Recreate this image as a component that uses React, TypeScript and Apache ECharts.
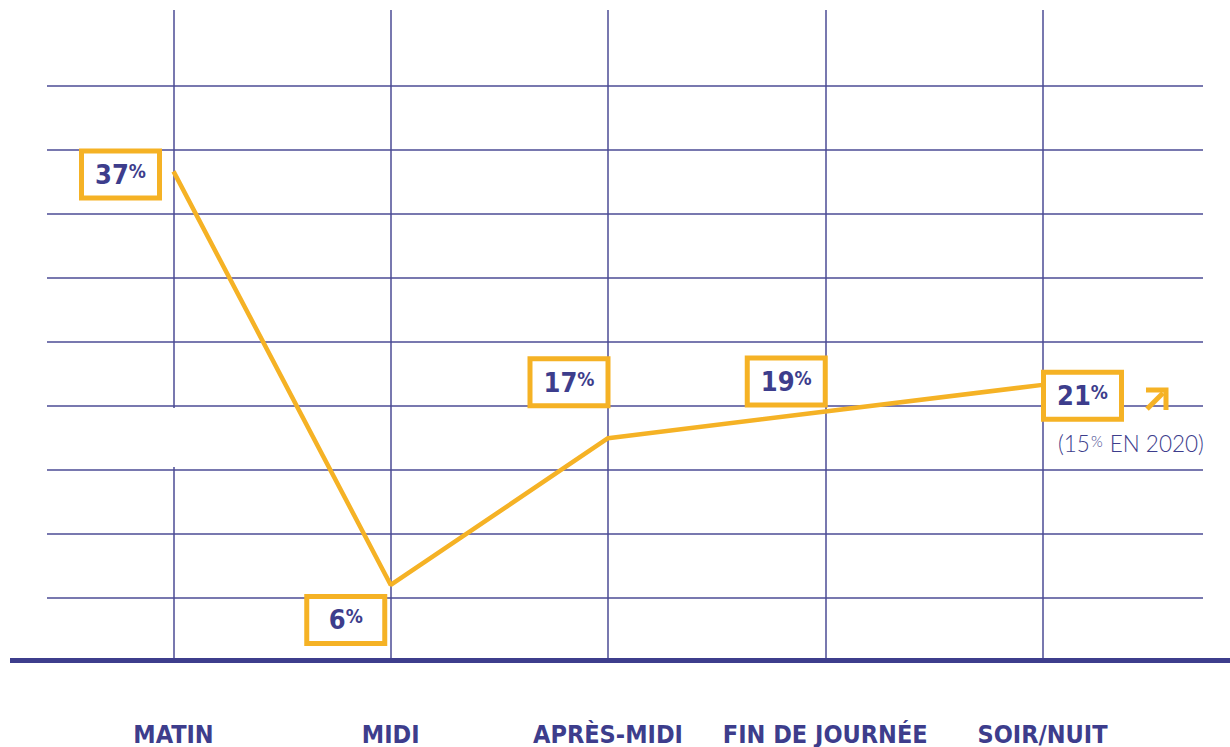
import React, { useEffect, useRef } from "react";
import * as echarts from "echarts";

const CATEGORIES = ["MATIN", "MIDI", "APRÈS-MIDI", "FIN DE JOURNÉE", "SOIR/NUIT"];
const SHARE = [37, 6, 17, 19, 21];
const EVENING_2020 = 15;
const EVENING_2020_YEAR = "2020";

const NAVY = "#3d3d8c";
const GRID = "#4b4b95";
const ORANGE = "#f5b225";
const NARROW = "'Liberation Sans Narrow', 'DejaVu Sans Condensed', 'Roboto', sans-serif";

export default function App() {
  const ref = useRef<HTMLDivElement>(null);
  useEffect(() => {
    document.body.style.margin = "0";
    if (!ref.current) return;
    const chart = echarts.init(ref.current, null, { renderer: "svg" });
    const offsets = [
      [-53, 3],
      [-45, 35],
      [-39, -56],
      [-39, -30],
      [40, 11],
    ];
    chart.setOption({
      animation: false,
      backgroundColor: "#ffffff",
      grid: [
        { left: 173.5, right: 187.5, top: 10, bottom: 86 },
        { left: 47, right: 27, top: 86, bottom: 85 },
      ],
      xAxis: [
        {
          type: "category",
          gridIndex: 0,
          data: CATEGORIES,
          boundaryGap: false,
          axisLine: { show: false },
          axisTick: { show: false },
          axisLabel: {
            color: NAVY,
            fontFamily: NARROW,
            fontWeight: "bold",
            fontSize: 25,
            lineHeight: 26,
            margin: 60,
            interval: 0,
          },
          splitLine: { show: true, lineStyle: { color: GRID, width: 1.5 } },
        },
        { type: "value", gridIndex: 1, min: 0, max: 1, show: false },
      ],
      yAxis: [
        {
          type: "value",
          gridIndex: 0,
          min: 0.3,
          max: 49.1,
          axisLine: { show: false },
          axisTick: { show: false },
          axisLabel: { show: false },
          splitLine: { show: false },
        },
        {
          type: "value",
          gridIndex: 1,
          min: 0,
          max: 9,
          interval: 1,
          axisLine: { show: false },
          axisTick: { show: false },
          axisLabel: { show: false },
          splitLine: { show: true, lineStyle: { color: GRID, width: 1.5 } },
        },
      ],
      series: [
        {
          type: "line",
          xAxisIndex: 0,
          yAxisIndex: 0,
          data: SHARE.map((v, i) => ({ value: v, label: { offset: offsets[i] } })),
          symbol: "circle",
          symbolSize: 1,
          itemStyle: { color: "rgba(0,0,0,0)" },
          lineStyle: { color: ORANGE, width: 4.5 },
          z: 3,
          label: {
            show: true,
            position: "inside",
            formatter: (p: any) => `{n|${p.value}}{p|%}`,
            backgroundColor: "#ffffff",
            borderColor: ORANGE,
            borderWidth: 5,
            width: 73,
            padding: [0, 0, 0, 0],
            align: "center",
            verticalAlign: "middle",
            rich: {
              n: {
                fontSize: 27,
                fontWeight: "bold",
                fontFamily: NARROW,
                color: NAVY,
                lineHeight: 42,
              },
              p: {
                fontSize: 19,
                fontWeight: "bold",
                fontFamily: NARROW,
                color: NAVY,
                lineHeight: 19,
                verticalAlign: "top",
                padding: [8, 0, 0, 0],
              },
            },
          },
        },
      ],
      graphic: [
        {
          type: "rect",
          shape: { x: 170, y: 408, width: 8, height: 59 },
          style: { fill: "#ffffff" },
          z: 10,
        },
        {
          type: "line",
          shape: { x1: 10, y1: 660.5, x2: 1230, y2: 660.5 },
          style: { stroke: NAVY, lineWidth: 5 },
          z: 10,
        },
        {
          type: "line",
          shape: { x1: 1147, y1: 409, x2: 1163, y2: 393 },
          style: { stroke: ORANGE, lineWidth: 5 },
          z: 10,
        },
        {
          type: "polyline",
          shape: { points: [[1146, 390], [1166, 390], [1166, 410]] },
          style: { stroke: ORANGE, lineWidth: 5, fill: "none" },
          z: 10,
        },
        {
          type: "text",
          x: 1058,
          y: 430,
          z: 10,
          style: {
            text: `{a|(${EVENING_2020}}{b|%}{a| EN ${EVENING_2020_YEAR})}`,
            rich: {
              a: { fontSize: 22.5, fontFamily: "Lato", fontWeight: 300, fill: NAVY, lineHeight: 26 },
              b: {
                fontSize: 15,
                fontFamily: "Lato",
                fontWeight: 300,
                fill: NAVY,
                lineHeight: 15,
                verticalAlign: "top",
                padding: [3, 1, 0, 1],
              },
            },
          },
        },
      ],
    });
    return () => chart.dispose();
  }, []);
  return <div ref={ref} style={{ width: 1230, height: 747 }} />;
}
